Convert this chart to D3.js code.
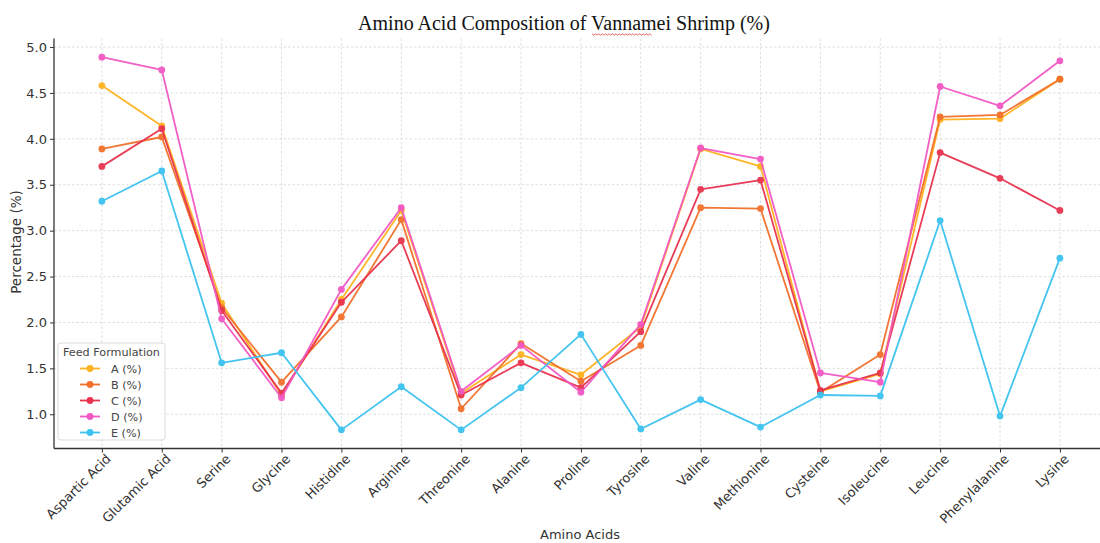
<!DOCTYPE html>
<html>
<head>
<meta charset="utf-8">
<script src="https://cdn.jsdelivr.net/npm/d3@7"></script>
<style>
  html, body { margin: 0; padding: 0; background: #fff; }
  svg { display: block; }
</style>
</head>
<body>
<svg id="chart" width="1100" height="543"></svg>
<script>
const categories = ["Aspartic Acid","Glutamic Acid","Serine","Glycine","Histidine","Arginine","Threonine","Alanine","Proline","Tyrosine","Valine","Methionine","Cysteine","Isoleucine","Leucine","Phenylalanine","Lysine"];
const seriesNames = ["A (%)","B (%)","C (%)","D (%)","E (%)"];
const valuesA = [4.58,4.14,2.21,1.21,2.25,3.22,1.23,1.65,1.43,1.95,3.89,3.70,1.25,1.44,4.21,4.22,4.65];
const valuesB = [3.89,4.02,2.16,1.35,2.06,3.12,1.06,1.77,1.36,1.75,3.25,3.24,1.24,1.65,4.24,4.26,4.65];
const valuesC = [3.70,4.11,2.13,1.23,2.22,2.89,1.21,1.56,1.29,1.90,3.45,3.55,1.26,1.45,3.85,3.57,3.22];
const valuesD = [4.89,4.75,2.04,1.18,2.36,3.25,1.25,1.75,1.24,1.98,3.90,3.78,1.45,1.35,4.57,4.36,4.85];
const valuesE = [3.32,3.65,1.56,1.67,0.83,1.30,0.83,1.29,1.87,0.84,1.16,0.86,1.21,1.20,3.11,0.98,2.70];
const yTicks = [1.0,1.5,2.0,2.5,3.0,3.5,4.0,4.5,5.0];
const colors = ["#FFB21F","#F2702A","#E8334F","#F257C4","#3BC2F0"];

const allSeries = [valuesA, valuesB, valuesC, valuesD, valuesE];

const svg = d3.select("#chart");
const margin = {left: 54, top: 38.5, bottom: 448.5};
const nCat = categories.length;
const step = 59.875;
const xLeft = 54;
const x = d3.scaleLinear().domain([-0.8, nCat - 1 + 0.8]).range([xLeft, xLeft + step * (nCat - 1 + 1.6)]);
const allVals = allSeries.flat();
const vmin = d3.min(allVals), vmax = d3.max(allVals);
const pad = (vmax - vmin) * 0.05;
const y = d3.scaleLinear().domain([vmin - pad, vmax + pad]).range([margin.bottom, margin.top]);

const font = "DejaVu Sans, Verdana, sans-serif";

// grid
const g = svg.append("g");
g.selectAll(".hgrid").data(yTicks).enter().append("line")
  .attr("x1", xLeft).attr("x2", 1100)
  .attr("y1", d => y(d)).attr("y2", d => y(d))
  .attr("stroke", "#d6d6d6").attr("stroke-width", 0.8).attr("stroke-dasharray", "2.5,2");
g.selectAll(".vgrid").data(d3.range(nCat)).enter().append("line")
  .attr("x1", d => x(d)).attr("x2", d => x(d))
  .attr("y1", margin.top).attr("y2", margin.bottom)
  .attr("stroke", "#d6d6d6").attr("stroke-width", 0.8).attr("stroke-dasharray", "2.5,2");

// lines
const line = d3.line().x((d, i) => x(i)).y(d => y(d));
allSeries.forEach((vals, si) => {
  const sg = svg.append("g").attr("opacity", 0.95);
  sg.append("path").datum(vals).attr("d", line)
    .attr("fill", "none").attr("stroke", colors[si]).attr("stroke-width", 1.8)
    .attr("stroke-linejoin", "round");
  sg.selectAll("circle").data(vals).enter().append("circle")
    .attr("cx", (d, i) => x(i)).attr("cy", d => y(d)).attr("r", 3.4)
    .attr("fill", colors[si]);
});

// axes
const yAxis = d3.axisLeft(y).tickValues(yTicks).tickFormat(d3.format(".1f")).tickSize(4).tickPadding(3);
const ya = svg.append("g").attr("transform", `translate(${xLeft},0)`).call(yAxis);
ya.select(".domain").attr("stroke", "#333").attr("stroke-width", 1.3).attr("d", `M0,${margin.top}V${margin.bottom}`);
ya.selectAll(".tick line").attr("stroke", "#333");
ya.selectAll(".tick text").attr("font-family", font).attr("font-size", 13).attr("fill", "#333");

const xAxis = d3.axisBottom(x).tickValues(d3.range(nCat)).tickFormat(i => categories[i]).tickSize(4).tickPadding(3);
const xa = svg.append("g").attr("transform", `translate(0,${margin.bottom})`).call(xAxis);
xa.select(".domain").attr("stroke", "#333").attr("stroke-width", 1.3).attr("d", `M${xLeft},0H1100`);
xa.selectAll(".tick line").attr("stroke", "#333");
xa.selectAll(".tick text")
  .attr("font-family", font).attr("font-size", 13).attr("fill", "#333")
  .attr("text-anchor", "end").attr("dy", "0.35em")
  .attr("transform", "translate(6,8) rotate(-45)").attr("y", 0).attr("x", 0);

// axis titles
svg.append("text").attr("x", 580).attr("y", 539).attr("text-anchor", "middle")
  .attr("font-family", font).attr("font-size", 13).attr("fill", "#333").text("Amino Acids");
svg.append("text").attr("transform", "translate(21,242) rotate(-90)").attr("text-anchor", "middle")
  .attr("font-family", font).attr("font-size", 13.5).attr("fill", "#333").text("Percentage (%)");

// title
svg.append("text").attr("x", 564).attr("y", 30).attr("text-anchor", "middle")
  .attr("font-family", "Liberation Serif, Times New Roman, serif").attr("font-size", 20).attr("fill", "#111")
  .text("Amino Acid Composition of Vannamei Shrimp (%)");
// spell-check squiggle under "Vannamei"
const sq = d3.range(0, 36).map(i => [592 + i * 1.7, 34 + (i % 2 ? 1.2 : -0.2)]);
svg.append("path").attr("d", d3.line()(sq)).attr("fill", "none").attr("stroke", "#e02020").attr("stroke-width", 0.7);

// legend
const lg = svg.append("g").attr("transform", "translate(58,343)");
lg.append("rect").attr("x", 0).attr("y", 0).attr("width", 107).attr("height", 97).attr("rx", 3)
  .attr("fill", "#fff").attr("fill-opacity", 0.85).attr("stroke", "#d0d0d0").attr("stroke-width", 0.8);
lg.append("text").attr("x", 53.5).attr("y", 13).attr("text-anchor", "middle")
  .attr("font-family", font).attr("font-size", 11.2).attr("fill", "#444").text("Feed Formulation");
seriesNames.forEach((name, i) => {
  const yy = 25.5 + i * 16;
  lg.append("line").attr("x1", 22).attr("x2", 42).attr("y1", yy).attr("y2", yy)
    .attr("stroke", colors[i]).attr("stroke-width", 1.8);
  lg.append("circle").attr("cx", 32).attr("cy", yy).attr("r", 3.4).attr("fill", colors[i]);
  lg.append("text").attr("x", 53).attr("y", yy + 4).attr("font-family", font).attr("font-size", 11.2)
    .attr("fill", "#444").text(name);
});
</script>
</body>
</html>
